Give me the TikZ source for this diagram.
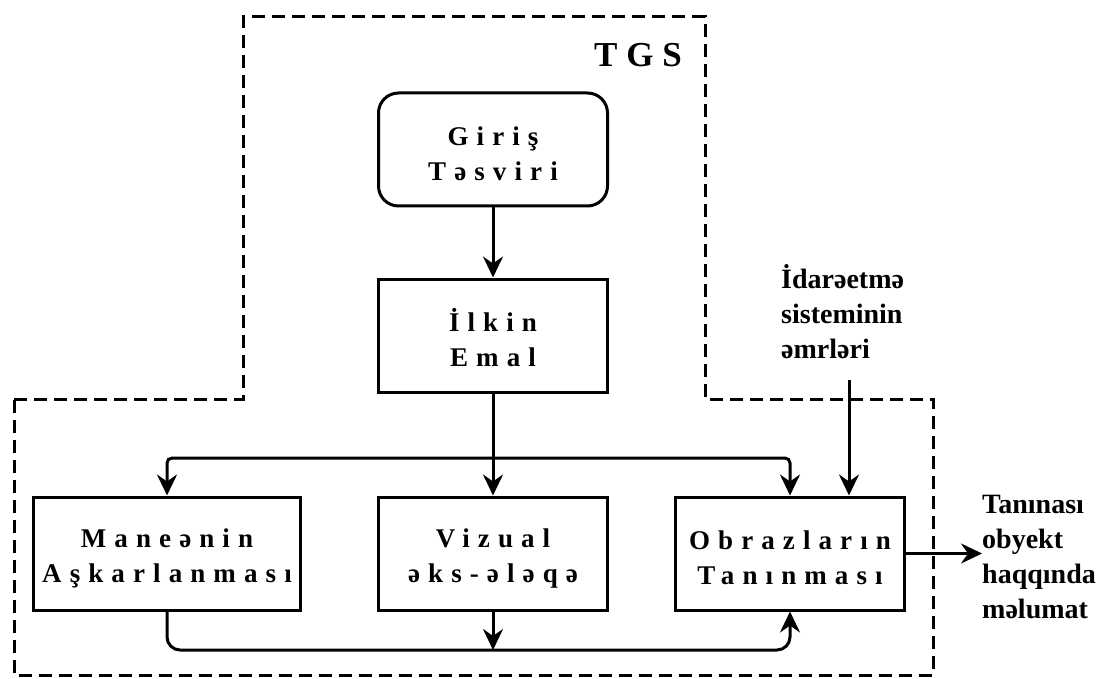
\documentclass[tikz,border=0pt]{standalone}
\usepackage{fontspec}
\setmainfont{Liberation Serif}
\newfontfamily\spacedfont[LetterSpace=30]{Liberation Serif}
\newfontfamily\titlefont[LetterSpace=25]{Liberation Serif}
\usetikzlibrary{arrows.meta,calc}
% taller first line, so two-line labels sit a little lower in their boxes
\newcommand\firstline{\rule{0pt}{28pt}}
\begin{document}
\begin{tikzpicture}[x=1pt,y=-1pt,
  boxtext/.style={font=\spacedfont\bfseries\fontsize{27}{35}\selectfont, align=center},
  stepbox/.style={draw, line width=3pt, minimum width=229pt, minimum height=113pt, inner sep=0pt, boxtext},
  sidetext/.style={font=\bfseries\fontsize{28}{35}\selectfont, align=left, inner sep=0pt},
  conn/.style={line width=3pt, -{Stealth[length=21pt,width=20pt,inset=7pt]}},
  frame/.style={line width=3pt, dash pattern=on 13pt off 7pt}
]
\useasboundingbox (0,0) rectangle (1114,679);

% system boundary
\draw[frame] (14,399) -- (243,399) -- (243,17) -- (705,17) -- (705,399)
  -- (933,399) -- (933,675) -- (14,675) -- cycle;
\node[anchor=base west, inner sep=0pt, font=\titlefont\bfseries\fontsize{35}{40}\selectfont] (tgs) at (594,67) {TGS};

% processing blocks
\node[stepbox, rounded corners=20pt] (giris) at (493,149.5) {\firstline Giriş\\Təsviri};
\node[stepbox] (ilkin) at (493,335.5) {\firstline İlkin\\Emal};
\node[stepbox, minimum width=267pt] (manee) at (167,553.5) {\firstline Maneənin\\Aşkarlanması};
\node[stepbox] (vizual) at (493,553.5) {\firstline Vizual\\əks-ələqə};
\node[stepbox] (obraz) at (790,553.5) {\firstline Obrazların\\Tanınması};

% external inputs and outputs
\node[sidetext, anchor=west] (cmd) at (781,312) {İdarəetmə\\sisteminin\\əmrləri};
\node[sidetext, anchor=west] (info) at (982,557) {Tanınası\\obyekt\\haqqında\\məlumat};

\coordinate (split) at (493,458);
\coordinate (bus) at (790,650);
\coordinate (cmdtop) at (849,380);

% connectors
\draw[conn] (giris) -- (ilkin);
\draw[conn] (ilkin.south) -- (vizual.north);
\draw[conn, rounded corners=5pt] (split) -| (manee.north);
\draw[conn, rounded corners=5pt] (split) -| (obraz.north);
\draw[conn, rounded corners=13pt] (manee.south) |- (bus) -- (obraz.south);
\draw[conn] (vizual.south) -- (vizual.south |- bus);
\draw[conn] (cmdtop) -- (cmdtop |- obraz.north);
\draw[conn] (obraz.east) -- (obraz.east -| info.west);
\end{tikzpicture}
\end{document}
